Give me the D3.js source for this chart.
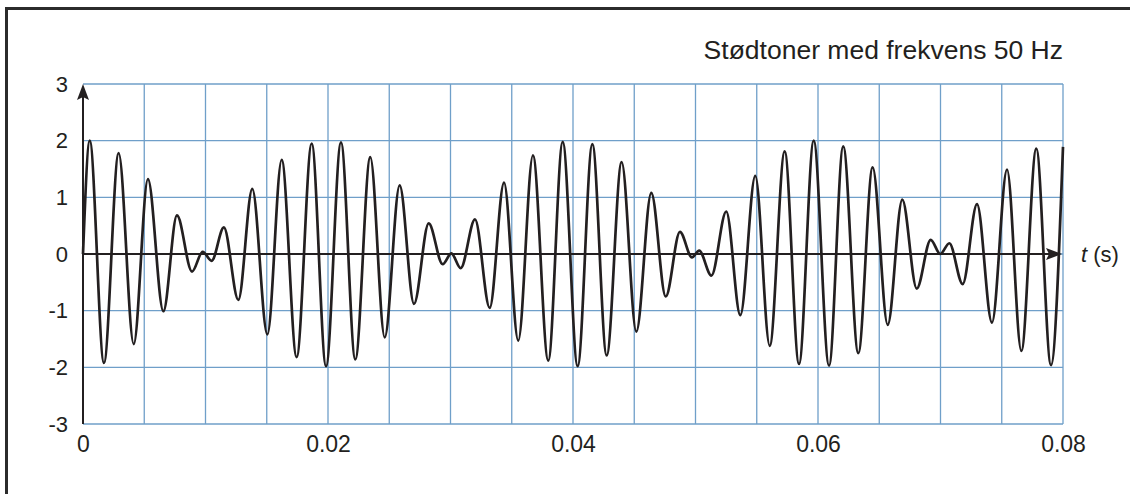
<!DOCTYPE html>
<html>
<head>
<meta charset="utf-8">
<script src="https://cdn.jsdelivr.net/npm/d3@7"></script>
<style>
    body { margin: 0; background: #fff; }
    svg { display: block; font-family: "Liberation Sans", Arial, Helvetica, sans-serif; }
</style>
</head>
<body>
<svg id="chart" width="1130" height="494"></svg>
<script>
// peaks and troughs (time in s, amplitude)
const times = [0, 0.00055, 0.00171, 0.00291, 0.00414, 0.0053, 0.00656, 0.00767, 0.0089, 0.00977,
    0.0105, 0.0115, 0.01268, 0.01382, 0.01505, 0.01622, 0.01744, 0.01867, 0.01984, 0.02106,
    0.02223, 0.02345, 0.02463, 0.02585, 0.02702, 0.02822, 0.02936, 0.03007, 0.03083, 0.032,
    0.0332, 0.03437, 0.03553, 0.03673, 0.03798, 0.03916, 0.04038, 0.04158, 0.04275, 0.04397,
    0.04517, 0.04639, 0.04757, 0.04873, 0.04971, 0.0503, 0.0513, 0.05251, 0.05366, 0.05488,
    0.05606, 0.05728, 0.05845, 0.05965, 0.0609, 0.06206, 0.06329, 0.06446, 0.06569, 0.06688,
    0.06806, 0.0692, 0.06998, 0.07072, 0.07181, 0.07298, 0.0742, 0.07543, 0.0766, 0.07782,
    0.07902, 0.08]
const amplitudes = [0, 2.0, -1.92, 1.78, -1.59, 1.32, -1.01, 0.68, -0.31, 0.04,
    -0.12, 0.47, -0.81, 1.15, -1.42, 1.66, -1.82, 1.95, -1.98, 1.97,
    -1.86, 1.71, -1.47, 1.21, -0.88, 0.54, -0.18, 0.01, -0.25, 0.61,
    -0.95, 1.26, -1.53, 1.74, -1.88, 1.98, -1.98, 1.94, -1.79, 1.62,
    -1.37, 1.08, -0.75, 0.39, -0.06, 0.06, -0.38, 0.75, -1.08, 1.38,
    -1.62, 1.81, -1.94, 2.0, -1.97, 1.9, -1.75, 1.53, -1.25, 0.96,
    -0.61, 0.25, 0.0, 0.19, -0.53, 0.88, -1.21, 1.49, -1.71, 1.86,
    -1.96, 1.89]
const x_labels = [0, 0.02, 0.04, 0.06, 0.08]
const y_labels = [-3, -2, -1, 0, 1, 2, 3]
const title = "Stødtoner med frekvens 50 Hz"

const grid_color = "#6f9fc9"
const ink = "#231f20"

const svg = d3.select("#chart")

const x = d3.scaleLinear().domain([0, 0.08]).range([83, 1063])
const y = d3.scaleLinear().domain([-3, 3]).range([424, 84])

// outer frame, only top and left are visible
svg.append("rect")
    .attr("x", 6.5)
    .attr("y", 8.5)
    .attr("width", 1300)
    .attr("height", 700)
    .attr("fill", "none")
    .attr("stroke", "#2b2b2b")
    .attr("stroke-width", 3)

// grid
svg.append("g")
    .selectAll("line")
    .data(x.ticks(16).filter(d => d > 0))
    .join("line")
    .attr("x1", d => x(d))
    .attr("x2", d => x(d))
    .attr("y1", y(-3))
    .attr("y2", y(3))
    .attr("stroke", grid_color)
    .attr("stroke-width", 1.3)

svg.append("g")
    .selectAll("line")
    .data(y_labels)
    .join("line")
    .attr("x1", x(0))
    .attr("x2", x(0.08))
    .attr("y1", d => y(d))
    .attr("y2", d => y(d))
    .attr("stroke", grid_color)
    .attr("stroke-width", 1.3)

// tick labels
const y_axis = svg.append("g")
    .attr("transform", `translate(${x(0)},0)`)
    .call(d3.axisLeft(y).tickValues(y_labels).tickSize(0).tickPadding(15).tickFormat(d => String(d)))
y_axis.select(".domain").remove()
y_axis.selectAll("text")
    .attr("font-size", 22)
    .attr("font-family", null)
    .attr("fill", ink)

const x_axis = svg.append("g")
    .attr("transform", `translate(0,${y(-3)})`)
    .call(d3.axisBottom(x).tickValues(x_labels).tickSize(0).tickPadding(12).tickFormat(d => d === 0 ? "0" : d.toFixed(2)))
x_axis.select(".domain").remove()
x_axis.selectAll("text")
    .attr("font-size", 23)
    .attr("font-family", null)
    .attr("fill", ink)

// axis lines with arrows
svg.append("line")
    .attr("x1", x(0))
    .attr("x2", x(0))
    .attr("y1", y(-3))
    .attr("y2", y(3) + 10)
    .attr("stroke", ink)
    .attr("stroke-width", 2)

svg.append("path")
    .attr("d", `M${x(0)},${y(3)} L${x(0) - 6},${y(3) + 16} L${x(0)},${y(3) + 13} L${x(0) + 6},${y(3) + 16} Z`)
    .attr("fill", ink)

svg.append("line")
    .attr("x1", x(0))
    .attr("x2", x(0.08) - 10)
    .attr("y1", y(0))
    .attr("y2", y(0))
    .attr("stroke", ink)
    .attr("stroke-width", 2)

svg.append("path")
    .attr("d", `M${x(0.08) - 1},${y(0)} L${x(0.08) - 17},${y(0) - 6} L${x(0.08) - 14},${y(0)} L${x(0.08) - 17},${y(0) + 6} Z`)
    .attr("fill", ink)

// the beat signal
const line = d3.line()
    .x(d => x(d[0]))
    .y(d => y(d[1]))
    .curve(d3.curveMonotoneX)

svg.append("path")
    .datum(d3.zip(times, amplitudes))
    .attr("d", line)
    .attr("fill", "none")
    .attr("stroke", ink)
    .attr("stroke-width", 2.7)
    .attr("stroke-linejoin", "round")

// texts
svg.append("text")
    .attr("x", 1063)
    .attr("y", 59)
    .attr("text-anchor", "end")
    .attr("font-size", 26.5)
    .attr("fill", ink)
    .text(title)

const axis_name = svg.append("text")
    .attr("x", 1081)
    .attr("y", 262)
    .attr("font-size", 22)
    .attr("fill", ink)
axis_name.append("tspan")
    .attr("font-style", "italic")
    .text("t")
axis_name.append("tspan")
    .text(" (s)")
</script>
</body>
</html>
